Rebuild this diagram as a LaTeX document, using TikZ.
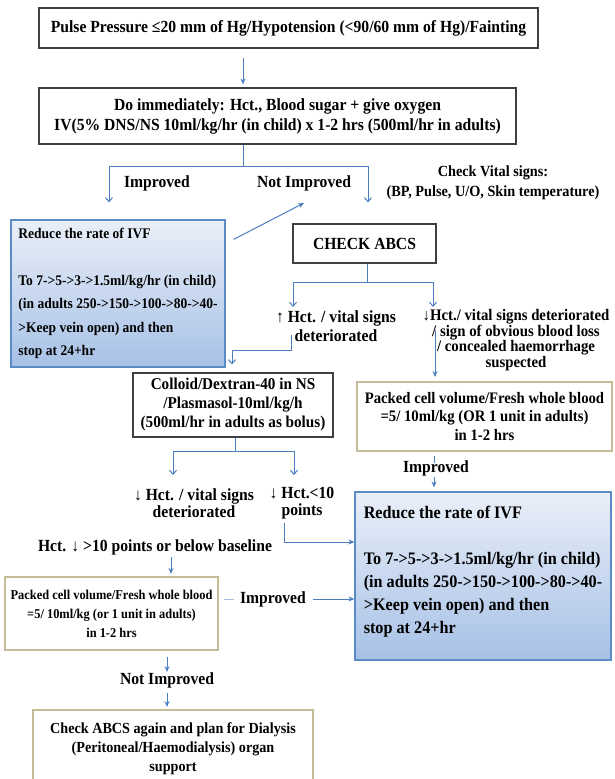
\documentclass[tikz,border=0pt]{standalone}
\usepackage{fontspec}
\setmainfont[FakeStretch=0.92]{Liberation Serif}
\usetikzlibrary{arrows.meta}
\definecolor{linkblue}{RGB}{74,126,193}
\definecolor{lightlink}{RGB}{166,192,224}
\definecolor{boxgray}{RGB}{64,64,64}
\definecolor{tanline}{RGB}{196,189,151}
\definecolor{bluetop}{RGB}{234,239,248}
\definecolor{bluebot}{RGB}{166,193,230}
\definecolor{blueline}{RGB}{92,140,200}
\newcommand{\fsz}[2]{\fontsize{#1}{#2}\selectfont\bfseries}
\tikzset{
  plainbox/.style={draw=boxgray, line width=1.2pt, fill=white, align=center, inner sep=0pt},
  tanbox/.style={draw=tanline, line width=2pt, fill=white, align=center, inner sep=0pt},
  bluebox/.style={draw=blueline, line width=1.2pt, top color=bluetop, bottom color=bluebot, align=left, inner sep=0pt},
  lbl/.style={align=center, inner sep=1pt},
  link/.style={draw=linkblue, line width=1pt},
  arr/.style={link, -{Stealth[length=6pt,width=5pt]}},
  openarr/.style={link, -{Straight Barb[length=4pt,width=7pt]}}
}
\begin{document}
\begin{tikzpicture}[x=1pt, y=-1pt, font=\fsz{17}{20}]
\useasboundingbox (0,0) rectangle (614,779);

\node (top) [plainbox, minimum width=499pt, minimum height=40pt] at (288.5,28) {Pulse Pressure ≤20 mm of Hg/Hypotension (<90/60 mm of Hg)/Fainting};
\node (immed) [plainbox, minimum width=477pt, minimum height=56pt] at (277.5,116) {Do immediately: Hct., Blood sugar + give oxygen\\ IV(5\% DNS/NS 10ml/kg/hr (in child) x 1-2 hrs (500ml/hr in adults)};
\coordinate (fork1) at (243,166);
\node (imp1) [lbl] at (157,183) {Improved};
\node (notimp1) [lbl] at (304,183) {Not Improved};
\node (vitals) [lbl, font=\fsz{15.5}{20}] at (493,183) {Check Vital signs:\\ (BP, Pulse, U/O, Skin temperature)};
\node (rate1) [bluebox, minimum width=214pt, minimum height=147pt, font=\fsz{14.7}{23.5}] at (118,293.5) {Reduce the rate of IVF\\[23.5pt] To 7->5->3->1.5ml/kg/hr (in child)\\ (in adults 250->150->100->80->40-\\ >Keep vein open) and then\\ stop at 24+hr};
\node (abcs) [plainbox, minimum width=143pt, minimum height=39pt] at (364.5,243.5) {CHECK ABCS};
\coordinate (fork2) at (367,282);
\node (hctup) [lbl, font=\fsz{17}{19}] at (336,326) {↑ Hct. / vital signs\\ deteriorated};
\node (hctdn) [lbl, font=\fsz{16.1}{15.5}] at (516,340) {↓Hct./ vital signs deteriorated\\ / sign of obvious blood loss\\ / concealed haemorrhage\\ suspected};
\node (colloid) [plainbox, minimum width=200pt, minimum height=64pt, font=\fsz{16.5}{19}] at (233,405) {Colloid/Dextran-40 in NS\\ /Plasmasol-10ml/kg/h\\ (500ml/hr in adults as bolus)};
\node (packed1) [tanbox, minimum width=255pt, minimum height=69pt, font=\fsz{16}{18.5}] at (484.5,416.5) {Packed cell volume/Fresh whole blood\\ =5/ 10ml/kg (OR 1 unit in adults)\\ in 1-2 hrs};
\node (imp2) [lbl] at (436,468) {Improved};
\node (rate2) [bluebox, minimum width=256pt, minimum height=168pt, font=\fsz{17.6}{23}] at (483,576) {Reduce the rate of IVF\\[23pt] To 7->5->3->1.5ml/kg/hr (in child)\\ (in adults 250->150->100->80->40-\\ >Keep vein open) and then\\ stop at 24+hr\\[-10pt]\mbox{}};
\coordinate (fork3) at (235,451);
\node (dn1) [lbl, font=\fsz{17}{17}] at (194,503.5) {↓ Hct. / vital signs\\ deteriorated};
\node (dn2) [lbl, font=\fsz{17}{17}] at (302,503.5) {↓ Hct.<10\\ points};
\node (hctbase) [lbl] at (155,547) {Hct. ↓ >10 points or below baseline};
\node (packed2) [tanbox, minimum width=213pt, minimum height=73pt, font=\fsz{13.5}{19}] at (111.5,613.5) {Packed cell volume/Fresh whole blood\\ =5/ 10ml/kg (or 1 unit in adults)\\ in 1-2 hrs};
\node (imp3) [lbl] at (273,599) {Improved};
\node (notimp2) [lbl] at (167,680) {Not Improved};
\node (final) [tanbox, minimum width=280pt, minimum height=78pt, font=\fsz{15.4}{19}] at (173,749) {Check ABCS again and plan for Dialysis\\ (Peritoneal/Haemodialysis) organ\\ support};

\draw[arr] ([xshift=-45.5pt,yshift=-9pt]top.south) -- ([xshift=-34.5pt,yshift=3pt]immed.north);
\draw[link] ([xshift=-34.5pt]immed.south) -- (fork1);
\draw[openarr] (fork1) -| ([xshift=-9pt,yshift=17pt]rate1.north);
\draw[openarr] (fork1) -| ([xshift=3.5pt,yshift=21pt]abcs.north);
\draw[arr] ([xshift=8pt,yshift=-20pt]rate1.north east) -- ([yshift=-20pt]notimp1.center);
\draw[link] ([xshift=2.5pt]abcs.south) -- (fork2);
\draw[openarr] (fork2) -| ([xshift=-43pt,yshift=19pt]hctup.center);
\draw[openarr] (fork2) -| ([xshift=-83pt,yshift=33pt]hctdn.center);
\draw[openarr] ([xshift=-45pt,yshift=-9pt]hctup.center) -- ++(0,15) -| ([xshift=-1pt,yshift=8pt]colloid.north);
\draw[arr] ([xshift=-81pt,yshift=10pt]hctdn.center) -- ([xshift=-49.5pt,yshift=4pt]packed1.north);
\draw[link] ([xshift=2pt]colloid.south) -- (fork3);
\draw[openarr] (fork3) -| ([xshift=-21pt,yshift=28.5pt]dn1.center);
\draw[openarr] (fork3) -| ([xshift=-8pt,yshift=28.5pt]dn2.center);
\draw[arr] ([xshift=-18pt,yshift=-19.5pt]dn2.center) |- ([yshift=34pt]rate2.west);
\draw[link] ([xshift=-50.5pt,yshift=-4pt]packed1.south) -- ([xshift=-2pt,yshift=5pt]imp2.center);
\draw[arr] ([xshift=-2pt,yshift=-9pt]imp2.center) -- ([xshift=-49pt,yshift=4pt]rate2.north);
\draw[arr] ([xshift=16pt,yshift=-10pt]hctbase.center) -- ([xshift=59.5pt,yshift=2pt]packed2.north);
\draw[draw=lightlink, line width=1pt] ([xshift=5pt,yshift=14.5pt]packed2.east) -- ([xshift=-39pt]imp3.center);
\draw[arr] ([xshift=40pt]imp3.center) -- (rate2.west |- imp3.center);
\draw[arr] ([xshift=55.5pt,yshift=-6pt]packed2.south) -- ([yshift=8pt]notimp2.center);
\draw[arr] ([yshift=-13pt]notimp2.center) -- ([xshift=-6pt,yshift=2pt]final.north);
\end{tikzpicture}
\end{document}
